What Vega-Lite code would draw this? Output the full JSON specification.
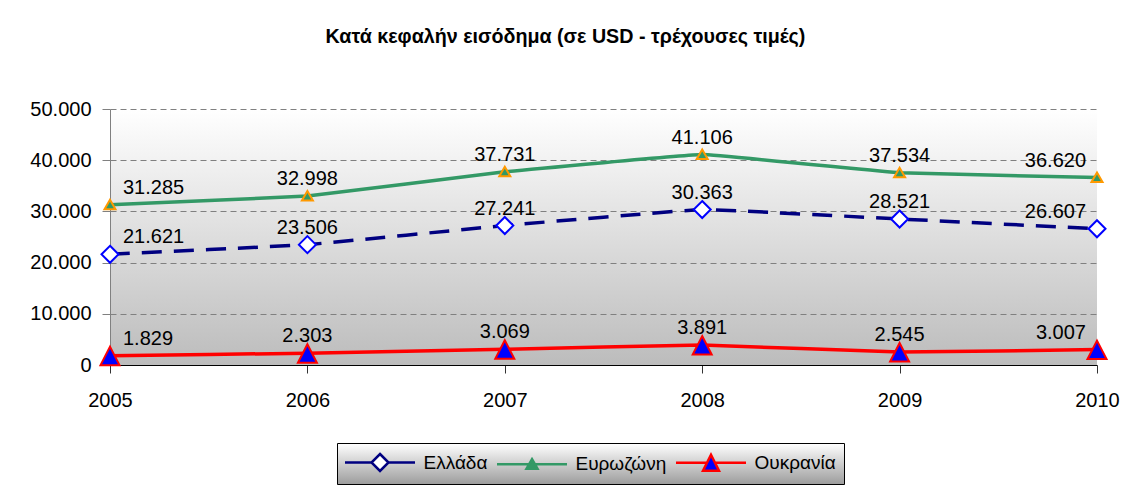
{
  "$schema": "https://vega.github.io/schema/vega-lite/v6.json",
  "autosize": "none",
  "width": 987,
  "height": 256,
  "padding": {"left": 110, "top": 109, "right": 29, "bottom": 121},
  "background": "white",
  "title": {
    "text": "Κατά κεφαλήν εισόδημα (σε USD - τρέχουσες τιμές)",
    "font": "Liberation Sans",
    "fontSize": 19.7,
    "fontWeight": "bold",
    "color": "black",
    "anchor": "middle",
    "dx": -38,
    "offset": 52
  },
  "data": {
    "values": [
      {"year": 2005, "series": "Ελλάδα", "value": 21621},
      {"year": 2006, "series": "Ελλάδα", "value": 23506},
      {"year": 2007, "series": "Ελλάδα", "value": 27241},
      {"year": 2008, "series": "Ελλάδα", "value": 30363},
      {"year": 2009, "series": "Ελλάδα", "value": 28521},
      {"year": 2010, "series": "Ελλάδα", "value": 26607},
      {"year": 2005, "series": "Ευρωζώνη", "value": 31285},
      {"year": 2006, "series": "Ευρωζώνη", "value": 32998},
      {"year": 2007, "series": "Ευρωζώνη", "value": 37731},
      {"year": 2008, "series": "Ευρωζώνη", "value": 41106},
      {"year": 2009, "series": "Ευρωζώνη", "value": 37534},
      {"year": 2010, "series": "Ευρωζώνη", "value": 36620},
      {"year": 2005, "series": "Ουκρανία", "value": 1829},
      {"year": 2006, "series": "Ουκρανία", "value": 2303},
      {"year": 2007, "series": "Ουκρανία", "value": 3069},
      {"year": 2008, "series": "Ουκρανία", "value": 3891},
      {"year": 2009, "series": "Ουκρανία", "value": 2545},
      {"year": 2010, "series": "Ουκρανία", "value": 3007}
    ]
  },
  "encoding": {
    "x": {
      "field": "year",
      "type": "quantitative",
      "scale": {"domain": [2005, 2010], "nice": false, "zero": false},
      "axis": {
        "title": null,
        "values": [2005, 2005.5, 2006, 2006.5, 2007, 2007.5, 2008, 2008.5, 2009, 2009.5, 2010],
        "format": "d",
        "labelExpr": "datum.value % 1 === 0 ? datum.label : ''",
        "grid": false,
        "domainColor": "black",
        "domainWidth": 1,
        "tickColor": {"condition": {"test": "datum.value % 1 === 0", "value": "#333333"}, "value": "#555555"},
        "tickSize": {"condition": {"test": "datum.value % 1 === 0", "value": 8}, "value": -6},
        "tickWidth": 1,
        "labelFont": "Liberation Sans",
        "labelFontSize": 20,
        "labelColor": "black",
        "labelPadding": 17,
        "labelOverlap": false,
        "labelFlush": false
      }
    },
    "y": {
      "field": "value",
      "type": "quantitative",
      "scale": {"domain": [0, 50000], "nice": false},
      "axis": {
        "title": null,
        "values": [0, 10000, 20000, 30000, 40000, 50000],
        "format": ",.0f",
        "grid": true,
        "gridDash": [6, 4],
        "gridColor": "#808080",
        "gridWidth": 1,
        "domainColor": "#808080",
        "tickColor": "#808080",
        "tickSize": 8,
        "labelFont": "Liberation Sans",
        "labelFontSize": 20,
        "labelColor": "black",
        "labelPadding": 11
      }
    }
  },
  "layer": [
    {
      "transform": [{"filter": "datum.series !== 'Ελλάδα'"}],
      "mark": {"type": "line", "interpolate": "cardinal", "tension": 0.8, "strokeWidth": 3.5},
      "encoding": {
        "color": {
          "field": "series",
          "type": "nominal",
          "scale": {"domain": ["Ελλάδα", "Ευρωζώνη", "Ουκρανία"], "range": ["#000080", "#339966", "#ff0000"]},
          "legend": {
            "title": null,
            "orient": "none",
            "legendX": 227,
            "legendY": 334,
            "direction": "horizontal",
            "symbolSize": 400,
            "symbolStrokeWidth": 2.5,
            "symbolOffset": 23.5,
            "labelOffset": 32,
            "labelFont": "Liberation Sans",
            "labelFontSize": 19,
            "labelColor": "black",
            "padding": 8,
            "columnPadding": 4,
            "strokeColor": "black",
            "encode": {
              "legend": {
                "update": {
                  "fill": {"value": {"gradient": "linear", "x1": 0, "y1": 0, "x2": 0, "y2": 1, "stops": [{"offset": 0, "color": "#ffffff"}, {"offset": 1, "color": "#9c9c9c"}]}},
                  "stroke": {"value": "black"},
                  "strokeWidth": {"value": 1}
                }
              },
              "symbols": {
                "update": {
                  "shape": {"signal": "datum.value === 'Ελλάδα' ? 'M-3.5,0L-0.85,0M0.85,0L3.5,0M0,-0.85L0.85,0L0,0.85L-0.85,0Z' : datum.value === 'Ευρωζώνη' ? 'M-3.5,0L-0.29,0M0.29,0L3.5,0M0,-0.5L0.55,0.45L-0.55,0.45Z' : 'M-3.5,0L-0.4,0M0.4,0L3.5,0M0,-0.8L0.8,0.8L-0.8,0.8Z'"},
                  "fill": {"signal": "datum.value === 'Ελλάδα' ? '#ffffff' : datum.value === 'Ευρωζώνη' ? '#339966' : '#0000ff'"},
                  "stroke": {"signal": "datum.value === 'Ελλάδα' ? {gradient: 'linear', x1: 0, y1: 0, x2: 1, y2: 0, stops: [{offset: 0, color: '#000080'}, {offset: 0.378, color: '#000080'}, {offset: 0.379, color: '#0000ff'}, {offset: 0.621, color: '#0000ff'}, {offset: 0.622, color: '#000080'}, {offset: 1, color: '#000080'}]} : datum.value === 'Ευρωζώνη' ? {gradient: 'linear', x1: 0, y1: 0, x2: 1, y2: 0, stops: [{offset: 0, color: '#339966'}, {offset: 0.421, color: '#339966'}, {offset: 0.422, color: '#ff9900'}, {offset: 0.578, color: '#ff9900'}, {offset: 0.579, color: '#339966'}, {offset: 1, color: '#339966'}]} : '#ff0000'"},
                  "opacity": {"value": 1}
                }
              }
            }
          }
        }
      }
    },
    {
      "transform": [{"filter": "datum.series === 'Ελλάδα'"}],
      "mark": {"type": "line", "interpolate": "cardinal", "tension": 0.8, "strokeWidth": 3.5, "stroke": "#000080", "strokeDash": [20, 12]},
      "encoding": {}
    },
    {
      "transform": [{"filter": "datum.series === 'Ελλάδα'"}],
      "mark": {"type": "point", "shape": "M0,-0.85L0.85,0L0,0.85L-0.85,0Z", "filled": true, "fill": "#ffffff", "stroke": "#0000ff", "opacity": 1, "size": 400, "strokeWidth": 2}
    },
    {
      "transform": [{"filter": "datum.series === 'Ευρωζώνη'"}],
      "mark": {"type": "point", "shape": "M0,-0.5L0.55,0.45L-0.55,0.45Z", "filled": true, "fill": "#339966", "stroke": "#ff9900", "opacity": 1, "size": 400, "strokeWidth": 2}
    },
    {
      "transform": [{"filter": "datum.series === 'Ουκρανία'"}],
      "mark": {"type": "point", "shape": "M0,-0.9L0.95,0.95L-0.95,0.95Z", "filled": true, "fill": "#0000ff", "stroke": "#ff0000", "opacity": 1, "size": 400, "strokeWidth": 2}
    },
    {
      "transform": [{"filter": "datum.year === 2005"}],
      "mark": {"type": "text", "align": "left", "baseline": "middle", "dx": 13, "dy": -17, "font": "Liberation Sans", "fontSize": 20, "color": "black"},
      "encoding": {"text": {"field": "value", "type": "quantitative", "format": ",.0f"}}
    },
    {
      "transform": [{"filter": "datum.year > 2005 && datum.year < 2010"}],
      "mark": {"type": "text", "align": "center", "baseline": "middle", "dy": -17, "font": "Liberation Sans", "fontSize": 20, "color": "black"},
      "encoding": {"text": {"field": "value", "type": "quantitative", "format": ",.0f"}}
    },
    {
      "transform": [{"filter": "datum.year === 2010"}],
      "mark": {"type": "text", "align": "right", "baseline": "middle", "dx": -11, "dy": -17, "font": "Liberation Sans", "fontSize": 20, "color": "black"},
      "encoding": {"text": {"field": "value", "type": "quantitative", "format": ",.0f"}}
    }
  ],
  "config": {
    "locale": {"number": {"decimal": ",", "thousands": ".", "grouping": [3], "currency": ["", " €"]}},
    "view": {
      "stroke": null,
      "fill": {"gradient": "linear", "x1": 0, "y1": 0, "x2": 0, "y2": 1, "stops": [{"offset": 0, "color": "#ffffff"}, {"offset": 1, "color": "#bcbcbc"}]}
    }
  }
}
